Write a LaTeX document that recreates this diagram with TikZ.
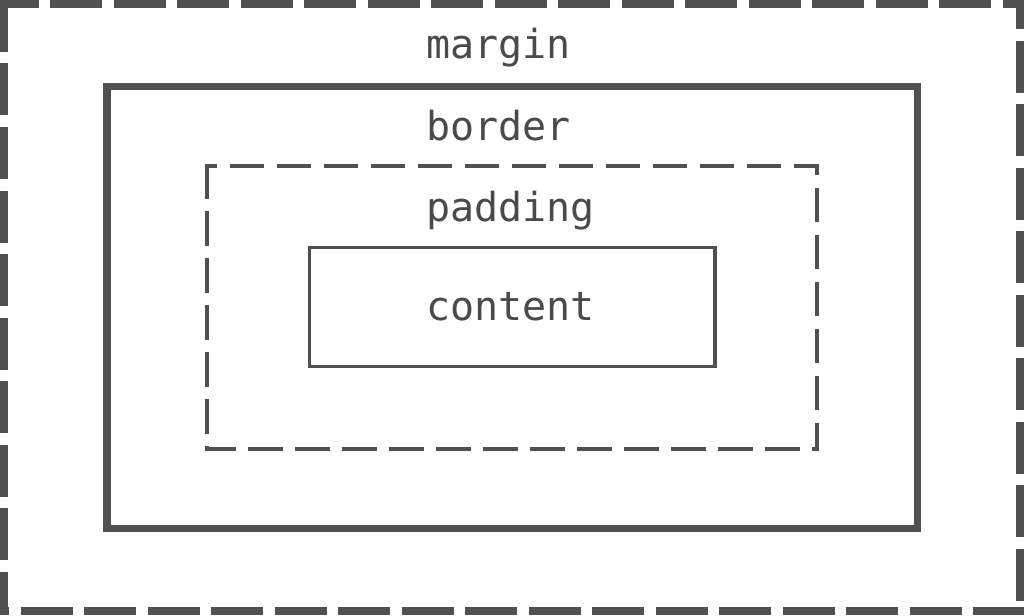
\documentclass[tikz,border=0pt]{standalone}
\usepackage{fontspec}
\newfontfamily\boxfont{DejaVu Sans Mono}
\definecolor{ink}{HTML}{505050}
\definecolor{txt}{HTML}{4A4A4A}
\begin{document}
\begin{tikzpicture}[x=1pt,y=-1pt,
  box/.style={rectangle,inner sep=0pt,outer sep=0pt},
  marginline/.style={ink,line width=8pt,dash pattern=on 52pt off 11.5pt},
  paddingline/.style={ink,line width=3.8pt,dash pattern=on 34.5pt off 12.5pt},
  label/.style={anchor=base west,inner sep=0pt,text=txt,font=\boxfont\fontsize{40}{48}\selectfont}]
\useasboundingbox (0,0) rectangle (1024,615);
\fill[white] (0,0) rectangle (1024,615);
% margin box (dashed, drawn side by side)
\node[box,minimum width=1016pt,minimum height=607pt] (margin) at (512,307.5) {};
\draw[marginline,dash phase=13.5pt] ([xshift=-4pt]margin.north west) -- ([xshift=4pt]margin.north east);
\draw[marginline,dash phase=0pt] ([yshift=4pt]margin.north west) -- ([yshift=-4pt]margin.south west);
\draw[marginline,dash phase=22.8pt] ([yshift=4pt]margin.north east) -- ([yshift=-4pt]margin.south east);
\draw[marginline,dash phase=42.8pt] ([xshift=-4pt]margin.south west) -- ([xshift=4pt]margin.south east);
% border box
\node[box,draw=ink,line width=7.5pt,minimum width=810.5pt,minimum height=442.4pt] (border) at (512,307.5) {};
% padding box (dashed)
\node[box,minimum width=610pt,minimum height=282.7pt] (padding) at (512,307.65) {};
\draw[paddingline,dash phase=22.3pt] ([xshift=-2pt]padding.north west) -- ([xshift=2pt]padding.north east);
\draw[paddingline,dash phase=0pt] ([yshift=2pt]padding.north west) -- ([yshift=-2pt]padding.south west);
\draw[paddingline,dash phase=23.5pt] ([yshift=2pt]padding.north east) -- ([yshift=-2pt]padding.south east);
\draw[paddingline,dash phase=4pt] ([xshift=-2pt]padding.south west) -- ([xshift=2pt]padding.south east);
% content box
\node[box,draw=ink,line width=3.5pt,minimum width=405.3pt,minimum height=118.8pt] (content) at (512.35,306.9) {};
% labels
\node[label] (tmargin) at (426,59) {margin};
\node[label] (tborder) at (426,140) {border};
\node[label] (tpadding) at (426,221) {padding};
\node[label] (tcontent) at (426,320) {content};
\end{tikzpicture}
\end{document}
